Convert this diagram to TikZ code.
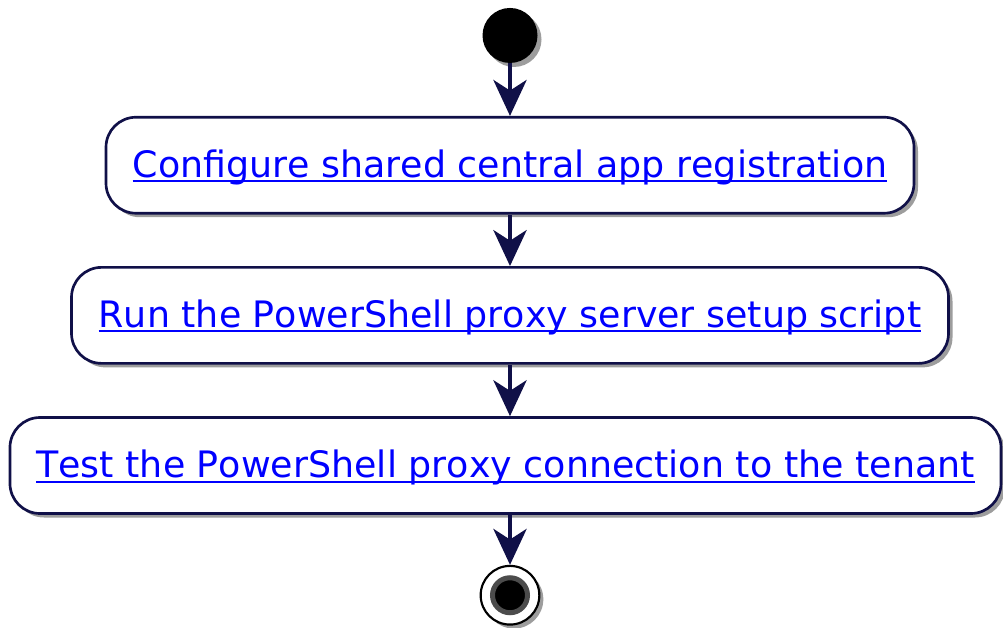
\documentclass[tikz,border=0pt]{standalone}
\usepackage{fontspec}
\setmainfont[Kerning=Off]{DejaVu Sans}
\usetikzlibrary{positioning}
\usetikzlibrary{arrows.meta}
\usetikzlibrary{shadows}
\definecolor{umlline}{RGB}{16,16,72}
\definecolor{umllink}{RGB}{0,0,255}
% blue link text with a thin underline close to the baseline
\newcommand{\lnk}[1]{\textcolor{umllink}{\setbox0\hbox{#1}\rlap{\rule[-3.75pt]{\wd0}{1.5pt}}\box0}}

\begin{document}
\begin{tikzpicture}[
    node distance=38.6pt,
    shade/.style={drop shadow={shadow xshift=3pt, shadow yshift=-3pt, fill=gray!90!black, opacity=0.7}},
    start/.style={circle, fill=black, minimum size=41.25pt, inner sep=0pt, shade},
    act/.style={rectangle, draw=umlline, line width=2pt, rounded corners=22.5pt, fill=white, minimum height=72pt, align=center, text height=24pt, text depth=6pt, font=\fontsize{27.3}{32}\selectfont, shade},
    stop/.style={circle, draw=black, line width=1.6pt, fill=white, minimum size=44pt, inner sep=0pt, shade},
    stopdot/.style={circle, draw=gray!60!black, line width=3.75pt, fill=black, minimum size=26.25pt, inner sep=0pt},
    flow/.style={-{Stealth[length=27pt, width=25pt, inset=8pt]}, line width=2.3pt, draw=umlline}
]
    \useasboundingbox (0,0) rectangle (752.25pt,-471pt);

    \node[start] (init) at (382.5pt,-26.6pt) {};
    \node[act, minimum width=606pt, below=39.5pt of init] (config) {\lnk{Configure shared central app registration}};
    \node[act, minimum width=657.75pt, below=of config] (setup) {\lnk{Run the PowerShell proxy server setup script}};
    \node[act, minimum width=743.25pt, below=of setup, xshift=-3.4pt] (test) {\lnk{Test the PowerShell proxy connection to the tenant}};
    \node[stop, below=37.5pt of test.south -| setup.south] (final) {};
    \node[stopdot] (finaldot) at (final.center) {};

    \draw[flow] (init) -- (config);
    \draw[flow] (config) -- (setup);
    \draw[flow] (setup.south) -- (setup.south |- test.north);
    \draw[flow] (setup.south |- test.south) -- (final);
\end{tikzpicture}
\end{document}
